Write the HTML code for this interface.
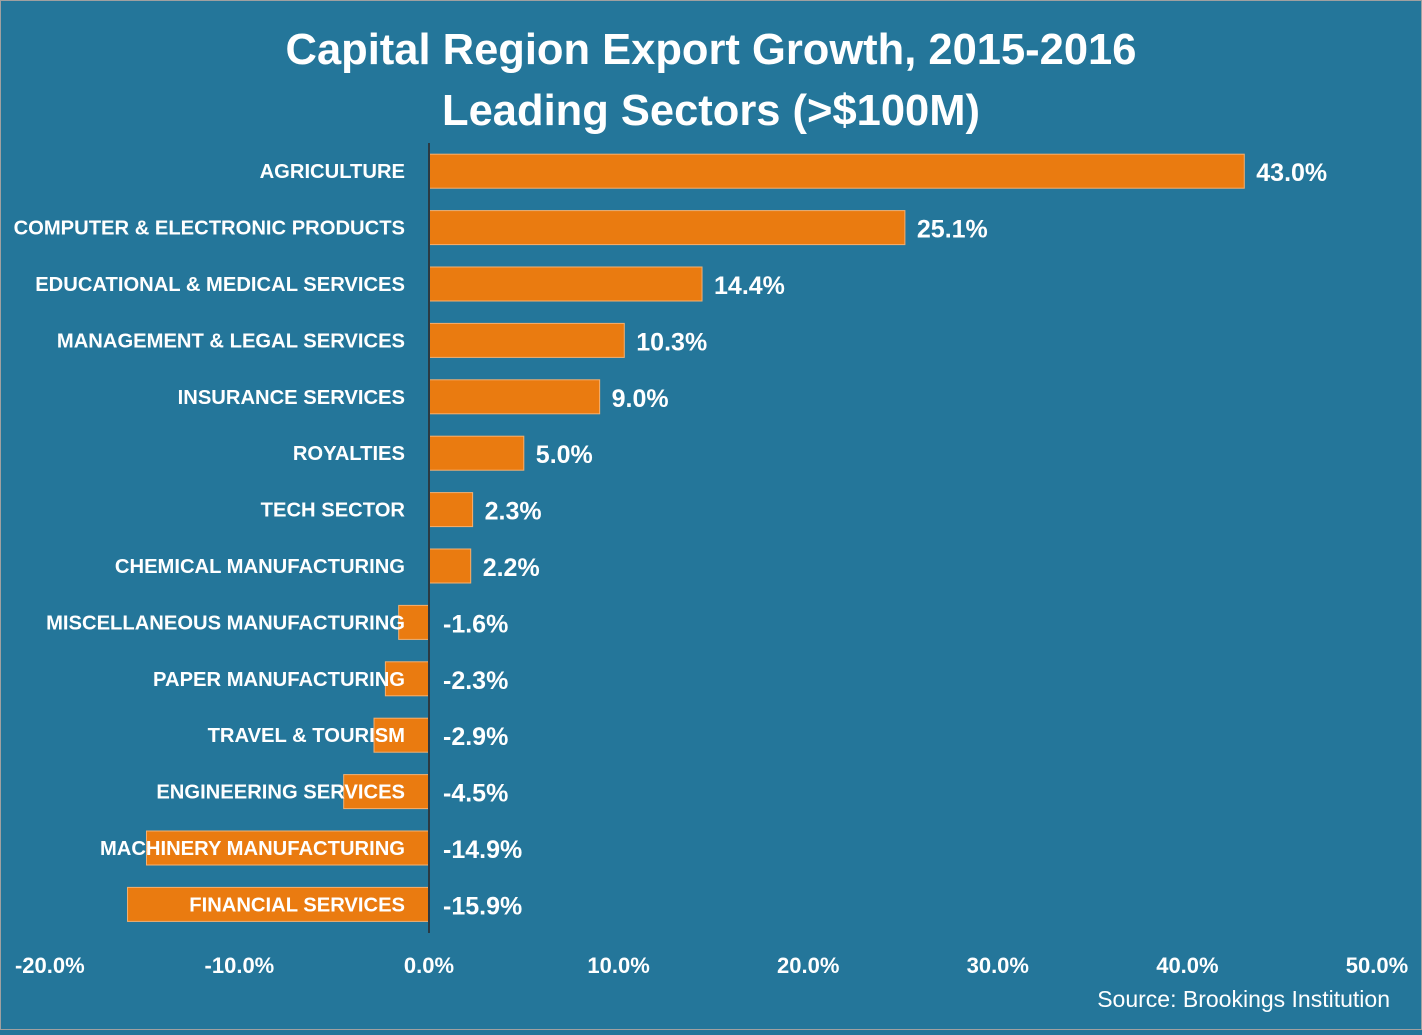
<!DOCTYPE html>
<html><head><meta charset="utf-8"><style>
html,body{margin:0;padding:0;}
body{width:1422px;height:1030px;background:#24769a;overflow:hidden;font-family:"Liberation Sans",sans-serif;}
svg text{font-family:"Liberation Sans",sans-serif;font-weight:bold;fill:#fff;}
</style></head><body>
<svg id="chart" width="1422" height="1030" xmlns="http://www.w3.org/2000/svg">
<rect x="0.5" y="0.5" width="1421" height="1029" fill="#24769a" stroke="#a0a0a0"/>
<text x="711" y="64" text-anchor="middle" font-size="43.5">Capital Region Export Growth, 2015-2016</text>
<text x="711" y="125" text-anchor="middle" font-size="43.5">Leading Sectors (&gt;$100M)</text>
<g id="bars"></g>
<g id="labels"></g>
<g id="values"></g>
<g id="ticks"></g>
<line x1="429" y1="143" x2="429" y2="933" stroke="#2a3a44" stroke-width="2"/>
<text x="1390" y="1007" text-anchor="end" font-size="23" style="font-weight:normal">Source: Brookings Institution</text>
</svg>
<script>
const categories = ["AGRICULTURE","COMPUTER & ELECTRONIC PRODUCTS","EDUCATIONAL & MEDICAL SERVICES","MANAGEMENT & LEGAL SERVICES","INSURANCE SERVICES","ROYALTIES","TECH SECTOR","CHEMICAL MANUFACTURING","MISCELLANEOUS MANUFACTURING","PAPER MANUFACTURING","TRAVEL & TOURISM","ENGINEERING SERVICES","MACHINERY MANUFACTURING","FINANCIAL SERVICES"];
const values = [43.0,25.1,14.4,10.3,9.0,5.0,2.3,2.2,-1.6,-2.3,-2.9,-4.5,-14.9,-15.9];
const ticks = [-20,-10,0,10,20,30,40,50];
const NS="http://www.w3.org/2000/svg";
const x = v => 429 + v*18.96;
const y = i => 143 + 56.4*(i+0.5);
const bh = 34;
function mk(tag, attrs, parent){const e=document.createElementNS(NS,tag);for(const k in attrs)e.setAttribute(k,attrs[k]);parent.appendChild(e);return e;}
const gB=document.getElementById('bars'),gL=document.getElementById('labels'),gV=document.getElementById('values'),gT=document.getElementById('ticks');
values.forEach((v,i)=>{
  const r=mk('rect',{x:Math.min(x(0),x(v)),y:y(i)-bh/2,width:Math.abs(x(v)-x(0)),height:bh,fill:'#ea7b10',stroke:'#f5b070','stroke-width':1},gB);
  
  
  const l=mk('text',{x:405,y:y(i)+7,'text-anchor':'end','font-size':20.2},gL);
  l.textContent=categories[i];
  
  
  const vx = v>=0 ? x(v)+12 : 443;
  const t=mk('text',{x:vx,y:y(i)+10,'text-anchor':'start','font-size':25},gV);
  t.textContent=v.toFixed(1)+'%';
  
  
});
ticks.forEach(t=>{
  const e=mk('text',{x:x(t),y:973,'text-anchor':'middle','font-size':22},gT);
  e.textContent=t.toFixed(1)+'%';
  
  
});
</script>
</body></html>
